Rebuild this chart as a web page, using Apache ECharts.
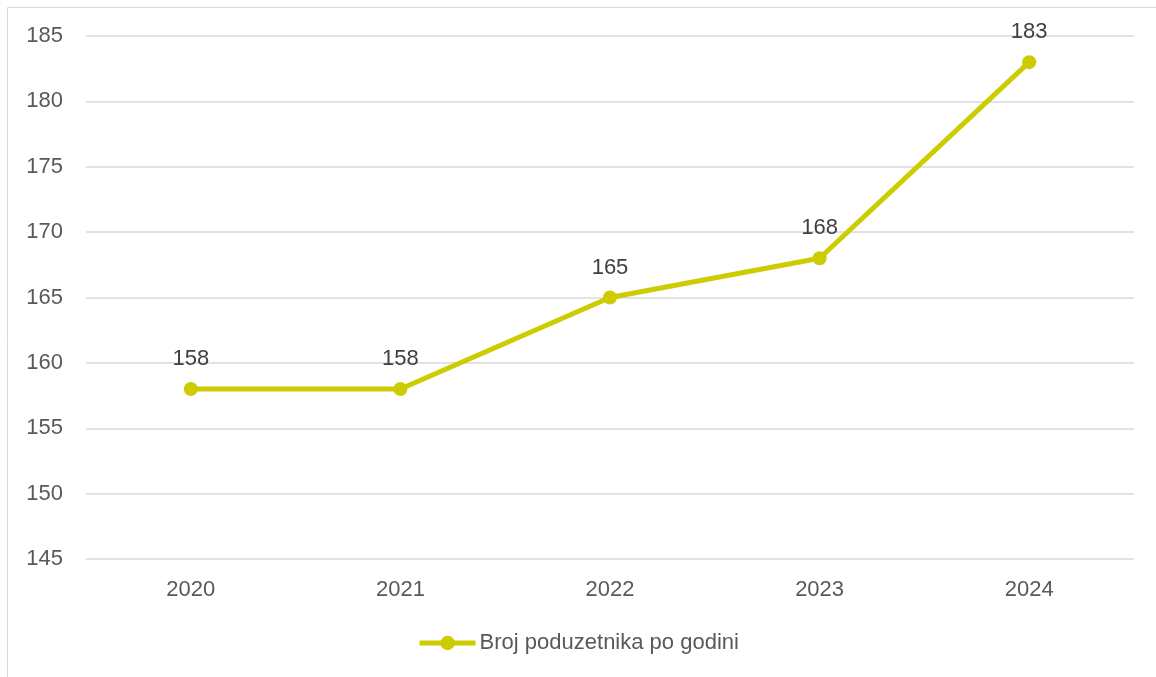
<!DOCTYPE html>
<html>
<head>
<meta charset="utf-8">
<script src="https://cdn.jsdelivr.net/npm/echarts@6/dist/echarts.min.js"></script>
<style>
  html, body { margin: 0; padding: 0; background: #fff; }
  #chart { width: 1156px; height: 677px; }
</style>
</head>
<body>
<div id="chart"></div>
<script>
// data
const years = ['2020', '2021', '2022', '2023', '2024'];
const entrepreneurs = [158, 158, 165, 168, 183];
const seriesName = 'Broj poduzetnika po godini';

const chart = echarts.init(document.getElementById('chart'));

const options = {
  textStyle: { fontFamily: 'Liberation Sans, Arial, sans-serif' },
  graphic: [
    // thin frame on top and left
    { type: 'line', shape: { x1: 7.5, y1: 7.5, x2: 1160, y2: 7.5 }, style: { stroke: '#d9d9d9', lineWidth: 1 } },
    { type: 'line', shape: { x1: 7.5, y1: 7.5, x2: 7.5, y2: 680 }, style: { stroke: '#d9d9d9', lineWidth: 1 } },
  ],
  grid: { left: 86, right: 22, top: 36, bottom: 118 },
  legend: {
    bottom: 18,
    left: 'center',
    itemWidth: 56,
    itemHeight: 18,
    itemGap: 0,
    lineStyle: { width: 5 },
    textStyle: { fontSize: 22, color: '#595959', padding: [0, 0, 0, -1] },
    data: [seriesName],
  },
  xAxis: {
    type: 'category',
    data: years,
    axisLine: { show: false },
    axisTick: { show: false },
    axisLabel: { fontSize: 22, color: '#595959', margin: 20 },
  },
  yAxis: {
    type: 'value',
    min: 145,
    max: 185,
    interval: 5,
    axisLine: { show: false },
    axisTick: { show: false },
    axisLabel: { fontSize: 22, color: '#595959', margin: 23 },
    splitLine: { lineStyle: { color: '#d9d9d9', width: 1.5 } },
  },
  series: [
    {
      name: seriesName,
      type: 'line',
      data: entrepreneurs,
      symbol: 'circle',
      symbolSize: 14,
      lineStyle: { color: '#cccc00', width: 5 },
      itemStyle: { color: '#cccc00' },
      label: {
        show: true,
        position: 'top',
        distance: 12,
        fontSize: 22,
        color: '#404040',
      },
    },
  ],
};

chart.setOption(options);
</script>
</body>
</html>
